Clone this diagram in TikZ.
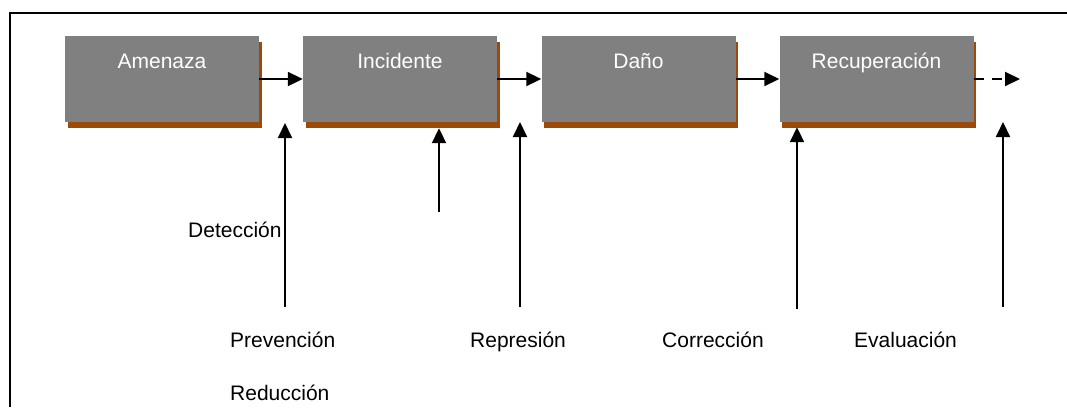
\documentclass[tikz,border=0pt]{standalone}
\usepackage{fontspec}
\setmainfont{Liberation Sans}
\usetikzlibrary{arrows.meta,shadows}
\definecolor{boxgray}{RGB}{128,128,128}
\definecolor{boxshadow}{RGB}{156,74,10}
\tikzset{
  stage/.style={draw=none, fill=boxgray, minimum width=194pt, minimum height=86pt,
    inner sep=0pt, drop shadow={shadow xshift=2.5pt, shadow yshift=-6pt, fill=boxshadow, opacity=1}},
  stagetext/.style={anchor=base, text=white, inner sep=0pt},
  flow/.style={line width=2pt, -{Triangle[length=15pt,width=14pt]}},
  measure/.style={anchor=base west, inner sep=0pt},
}
\begin{document}
\begin{tikzpicture}[x=1pt, y=-1pt, font=\fontsize{21}{25}\selectfont]
\useasboundingbox (0,0) rectangle (1067,407);
% frame
\draw[line width=2pt] (10,407) -- (10,13) -- (1067,13);

% stages of the incident chain
\node[stage] (amenaza) at (162,79) {};
\node[stage] (incidente) at (400,79) {};
\node[stage] (dano) at (638.5,79) {};
\node[stage] (recup) at (876.5,79) {};
\node[stagetext] (tAmenaza) at (162,68) {Amenaza};
\node[stagetext] (tIncidente) at (400,68) {Incidente};
\node[stagetext] (tDano) at (638.5,68) {Daño};
\node[stagetext] (tRecup) at (876.5,68) {Recuperación};

% horizontal flow
\draw[flow] (amenaza.east) -- (incidente.west);
\draw[flow] (incidente.east) -- (dano.west);
\draw[flow] (dano.east) -- (recup.west);
\coordinate (next) at (1020,79);
\draw[flow, dash pattern=on 10pt off 8pt] (recup.east) -- (next);

% measures acting on the chain
\coordinate (b1) at (285,307); \coordinate (e1) at (285,123);
\coordinate (b2) at (439,212); \coordinate (e2) at ([yshift=-6pt]incidente.south -| b2);
\coordinate (b3) at (520,307); \coordinate (e3) at (520,122);
\coordinate (b4) at (797,309); \coordinate (e4) at ([yshift=-5pt]recup.south -| b4);
\coordinate (b5) at (1003,307); \coordinate (e5) at (1003,122);
\draw[flow] (b1) -- (e1);
\draw[flow] (b2) -- (e2);
\draw[flow] (b3) -- (e3);
\draw[flow] (b4) -- (e4);
\draw[flow] (b5) -- (e5);

\node[measure] (deteccion) at (188,237) {Detección};
\node[measure] (prevencion) at (230,347) {Prevención};
\node[measure] (reduccion) at (230,400) {Reducción};
\node[measure] (represion) at (470,347) {Represión};
\node[measure] (correccion) at (662,347) {Corrección};
\node[measure] (evaluacion) at (854,347) {Evaluación};
\end{tikzpicture}
\end{document}
